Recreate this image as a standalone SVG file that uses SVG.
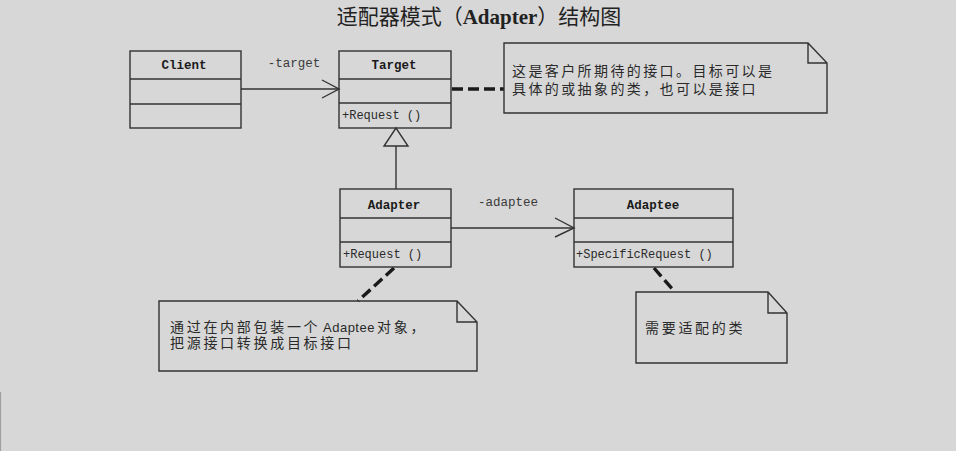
<svg xmlns="http://www.w3.org/2000/svg" width="956" height="451" viewBox="0 0 956 451">
<style>
.box{fill:none;stroke:#333;stroke-width:1.4}
.ln{fill:none;stroke:#333;stroke-width:1.4}
.dash{fill:none;stroke:#1a1a1a;stroke-width:3.4;stroke-dasharray:11 5}
.cn{font-family:"Liberation Mono","DejaVu Sans Mono",monospace;font-weight:bold;font-size:12.5px;fill:#1a1a1a;text-anchor:middle}
.op{font-family:"Liberation Mono","DejaVu Sans Mono",monospace;font-size:12px;fill:#2a2a2a}
.lbl{font-family:"Liberation Mono","DejaVu Sans Mono",monospace;font-size:12.5px;fill:#3a3a3a}
.nt{font-family:"Liberation Sans","Noto Sans CJK SC",sans-serif;font-size:14px;fill:#2a2a2a;letter-spacing:2.4px}
.nt2{letter-spacing:2.7px}
.en{font-family:"Liberation Sans","Noto Sans",sans-serif;font-size:13px;letter-spacing:0.5px}
.ti{font-family:"Noto Sans CJK SC",sans-serif;font-size:21px;fill:#222}
</style>
<rect width="956" height="451" fill="#d7d7d7"/>
<line x1="0.6" y1="392" x2="0.6" y2="451" stroke="#9a9a9a" stroke-width="1"/>
<text class="ti" x="479" y="24" text-anchor="middle">适配器模式（<tspan font-family="Liberation Serif,serif" font-weight="bold">Adapter</tspan>）结构图</text>

<g id="connectors">
  <line class="ln" x1="241" y1="89" x2="339" y2="89"/>
  <polyline class="ln" points="322,80 339,89 322,98"/>
  <text class="lbl" x="294" y="67" text-anchor="middle">-target</text>
  <line class="ln" x1="396" y1="146" x2="396" y2="189"/>
  <polygon class="ln" points="396,128 384,146 408,146"/>
  <line class="ln" x1="451" y1="228" x2="574" y2="228"/>
  <polyline class="ln" points="555,218 574,228 555,237"/>
  <text class="lbl" x="508" y="206" text-anchor="middle">-adaptee</text>
  <line class="dash" x1="452" y1="89" x2="504" y2="89"/>
  <line class="dash" x1="394" y1="268" x2="358" y2="301"/>
  <line class="dash" x1="654" y1="268" x2="675" y2="292"/>
</g>

<g id="client">
  <rect class="box" x="130" y="51" width="111" height="77"/>
  <line class="ln" x1="130" y1="79" x2="241" y2="79"/>
  <line class="ln" x1="130" y1="104" x2="241" y2="104"/>
  <text class="cn" x="184" y="69">Client</text>
</g>

<g id="target">
  <rect class="box" x="339" y="51" width="112" height="77"/>
  <line class="ln" x1="339" y1="79" x2="451" y2="79"/>
  <line class="ln" x1="339" y1="103" x2="451" y2="103"/>
  <text class="cn" x="394" y="69">Target</text>
  <text class="op" x="342" y="119">+Request ()</text>
</g>

<g id="adapter">
  <rect class="box" x="340" y="189" width="111" height="78"/>
  <line class="ln" x1="340" y1="218" x2="451" y2="218"/>
  <line class="ln" x1="340" y1="242" x2="451" y2="242"/>
  <text class="cn" x="394" y="209">Adapter</text>
  <text class="op" x="343" y="258">+Request ()</text>
</g>

<g id="adaptee">
  <rect class="box" x="574" y="189" width="159" height="78"/>
  <line class="ln" x1="574" y1="218" x2="733" y2="218"/>
  <line class="ln" x1="574" y1="242" x2="733" y2="242"/>
  <text class="cn" x="653" y="209">Adaptee</text>
  <text class="op" x="576" y="258">+SpecificRequest ()</text>
</g>

<g id="note-target">
  <path class="box" d="M504,43 H808 L827,63 V113 H504 Z M808,43 V63 H827"/>
  <text class="nt" x="512" y="76">这是客户所期待的接口。目标可以是</text>
  <text class="nt" x="512" y="94">具体的或抽象的类，也可以是接口</text>
</g>

<g id="note-adapter">
  <path class="box" d="M159,301 H457 L477,322 V371 H159 Z M457,301 V322 H477"/>
  <text class="nt nt2" x="170" y="332">通过在内部包装一个<tspan class="en" x="323">Adaptee</tspan><tspan x="377">对象，</tspan></text>
  <text class="nt nt2" x="170" y="348">把源接口转换成目标接口</text>
</g>

<g id="note-adaptee">
  <path class="box" d="M636,292 H768 L787,313 V363 H636 Z M768,292 V313 H787"/>
  <text class="nt nt2" x="645" y="333">需要适配的类</text>
</g>
</svg>
